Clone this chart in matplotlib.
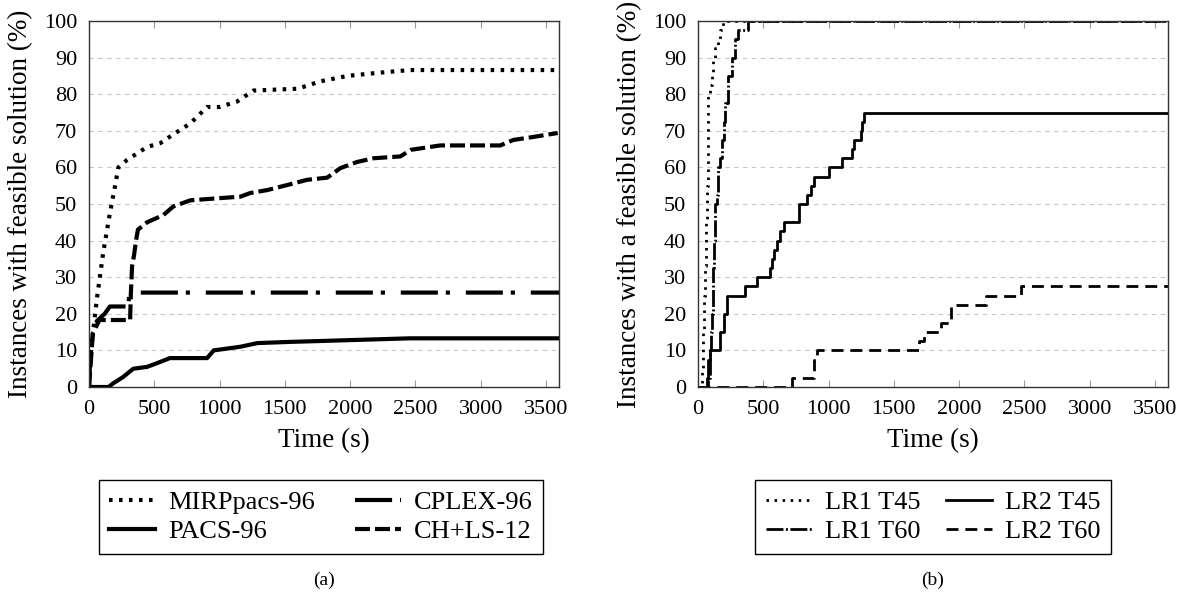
import matplotlib
matplotlib.use("Agg")
import matplotlib.pyplot as plt

plt.rcParams['font.family'] = ['Liberation Serif', 'DejaVu Serif']

# ---- panel (a) data ----
mirp_t = [0, 10, 30, 60, 110, 160, 200, 225, 290, 445, 545, 645, 775, 905, 1000,
          1135, 1260, 1600, 1770, 1980, 2200, 2460, 3600]
mirp_y = [0, 8, 14.7, 24, 37, 47.5, 55, 60, 62, 65.6, 66.6, 69, 72, 76.5, 76.5,
          78, 81, 81.5, 83.5, 85, 85.8, 86.6, 86.6]

pacs_t = [0, 150, 185, 260, 340, 445, 520, 620, 905, 955, 1160, 1290, 1520, 2460, 3600]
pacs_y = [0, 0, 1, 2.7, 5, 5.5, 6.5, 7.9, 7.9, 10, 11, 12, 12.3, 13.3, 13.3]

cplex_t = [0, 10, 30, 60, 120, 160, 220, 300, 310, 3600]
cplex_y = [0, 8, 15, 18, 20, 22, 22, 22, 25.8, 25.8]

chls_t = [0, 10, 30, 80, 315, 320, 330, 345, 360, 375, 445, 570, 645, 775, 1000,
          1160, 1235, 1365, 1520, 1670, 1825, 1925, 2055, 2180, 2385, 2465, 2690,
          3150, 3250, 3400, 3590]
chls_y = [0, 5, 14.7, 18.3, 18.3, 25, 33, 36, 40, 43, 45, 47, 49.3, 51, 51.6,
          52, 53, 53.8, 55.2, 56.6, 57.2, 59.8, 61.5, 62.5, 63, 64.8, 66,
          66, 67.5, 68.3, 69.4]

# ---- panel (b) data (step curves) ----
lr1_t45_t = [0, 31, 38, 46, 54, 62, 69, 73, 77, 92, 108, 115, 130, 154, 170, 192, 3600]
lr1_t45_y = [0, 5, 15, 25, 33, 45, 55, 69, 80, 82.5, 85, 90, 92.5, 95, 97.5, 100, 100]

lr1_t60_t = [0, 77, 92, 100, 108, 115, 123, 131, 146, 154, 170, 185, 200, 208, 231,
             262, 285, 310, 385, 3600]
lr1_t60_y = [0, 2.5, 10, 15, 20, 32.5, 40, 50, 52.5, 60, 62.5, 67.5, 72.5, 77.5, 85,
             90, 95, 97.5, 100, 100]

lr2_t45_t = [0, 67, 79, 92, 169, 200, 220, 362, 451, 554, 567, 579, 605, 630, 656,
             772, 836, 862, 887, 1002, 1105, 1182, 1195, 1246, 1259, 1272, 3600]
lr2_t45_y = [0, 2.5, 7.5, 10, 15, 20, 25, 27.5, 30, 32.5, 35, 37.5, 40, 42.5, 45,
             50, 52.5, 55, 57.5, 60, 62.5, 65, 67.5, 70, 72.5, 75, 75]

lr2_t60_t = [0, 720, 887, 913, 1695, 1733, 1861, 1938, 2207, 2476, 3600]
lr2_t60_y = [0, 2.5, 7.5, 10, 12.5, 15, 17.5, 22.5, 25, 27.5, 27.5]

fig = plt.figure(figsize=(11.83, 6), dpi=100)
ax1 = fig.add_axes([89 / 1183, 1 - 387 / 600, 470 / 1183, 366 / 600])
ax2 = fig.add_axes([698 / 1183, 1 - 387 / 600, 470 / 1183, 366 / 600])

lw1 = 3.0
ax1.plot(mirp_t, mirp_y, color='k', lw=lw1, ls=(0, (0.85, 1.55)), label='MIRPpacs-96')
ax1.plot(pacs_t, pacs_y, color='k', lw=lw1, ls='-', label='PACS-96')
ax1.plot(cplex_t, cplex_y, color='k', lw=lw1, ls=(0, (8.9, 1.9, 1.0, 3.8)), label='CPLEX-96')
ax1.plot(chls_t, chls_y, color='k', lw=lw1, ls=(0, (3.6, 1.2)), label='CH+LS-12')

lw2 = 2.0
ax2.plot(lr1_t45_t, lr1_t45_y, color='k', lw=lw2, ls=(0, (0.9, 2.0)),
         drawstyle='steps-post', label='LR1 T45')
ax2.plot(lr1_t60_t, lr1_t60_y, color='k', lw=lw2, ls=(0, (6.1, 0.9, 0.7, 0.9)),
         drawstyle='steps-post', label='LR1 T60')
ax2.plot(lr2_t45_t, lr2_t45_y, color='k', lw=lw2, ls='-',
         drawstyle='steps-post', label='LR2 T45')
ax2.plot(lr2_t60_t, lr2_t60_y, color='k', lw=lw2, ls=(0, (4.3, 2.5)),
         drawstyle='steps-post', label='LR2 T60')

ylabels = ['Instances with feasible solution (%)', 'Instances with a feasible solution (%)']
for ax, yl in zip([ax1, ax2], ylabels):
    ax.set_xlim(0, 3600)
    ax.set_ylim(0, 100)
    ax.set_xticks(range(0, 3501, 500))
    ax.set_yticks(range(0, 101, 10))
    ax.tick_params(axis='x', direction='in', top=True, length=5, width=0.8,
                   color='#999999', labelsize=16, pad=9.5)
    ax.tick_params(axis='y', length=0, labelsize=16, pad=8.5)
    for y in range(10, 100, 10):
        ax.axhline(y, color='#c8c8c8', lw=0.8, ls=(0, (4, 4)), zorder=0)
    for s in ax.spines.values():
        s.set_linewidth(1.0)
        s.set_color('#333333')
    ax.set_xlabel('Time (s)', fontsize=19.5, labelpad=6.5)
    ax.set_ylabel(yl, fontsize=19.5, labelpad=8)

leg_kw = dict(loc='center', ncol=2, fontsize=19, handlelength=1.75, handletextpad=0.5,
              labelspacing=0.2, fancybox=False, edgecolor='k',
              borderpad=0.4, framealpha=1)
l1 = ax1.legend(bbox_to_anchor=(321 / 1183, 1 - 517 / 600), columnspacing=1.5,
                bbox_transform=fig.transFigure, **leg_kw)
l2 = ax2.legend(bbox_to_anchor=(933 / 1183, 1 - 517 / 600), columnspacing=0.95,
                bbox_transform=fig.transFigure, **leg_kw)
for l in (l1, l2):
    l.get_frame().set_linewidth(1.0)

fig.text(324 / 1183, 1 - 580 / 600, '(a)', ha='center', va='center', fontsize=14)
fig.text(933 / 1183, 1 - 580 / 600, '(b)', ha='center', va='center', fontsize=14)

fig.savefig('out.png', dpi=100)
